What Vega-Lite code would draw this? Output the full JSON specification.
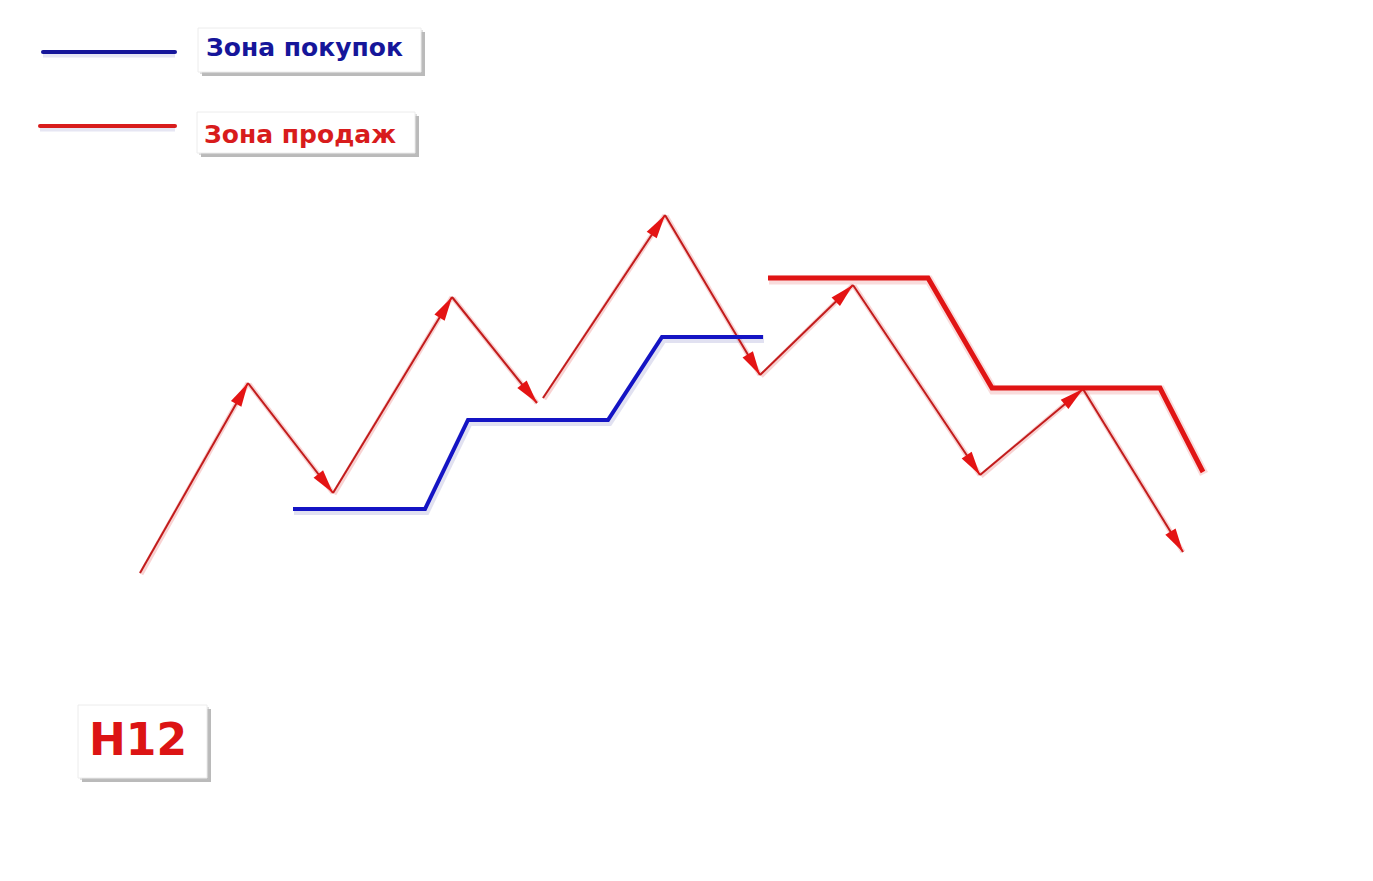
{
  "$schema": "https://vega.github.io/schema/vega-lite/v6.json",
  "width": 1373,
  "height": 881,
  "padding": 0,
  "autosize": {"type": "none"},
  "background": "white",
  "config": {"view": {"stroke": null}},
  "datasets": {
    "arrows": [
      {"id": 1, "x": 140, "y": 573, "x2": 248, "y2": 383},
      {"id": 2, "x": 248, "y": 383, "x2": 333, "y2": 493},
      {"id": 3, "x": 333, "y": 493, "x2": 452, "y2": 297},
      {"id": 4, "x": 452, "y": 297, "x2": 537, "y2": 403},
      {"id": 5, "x": 543, "y": 398, "x2": 665, "y2": 215},
      {"id": 6, "x": 665, "y": 215, "x2": 760, "y2": 375},
      {"id": 7, "x": 760, "y": 375, "x2": 853, "y2": 285},
      {"id": 8, "x": 853, "y": 285, "x2": 980, "y2": 475},
      {"id": 9, "x": 980, "y": 475, "x2": 1083, "y2": 389},
      {"id": 10, "x": 1083, "y": 389, "x2": 1183, "y2": 552}
    ],
    "buy": [
      {"o": 1, "x": 293, "y": 509},
      {"o": 2, "x": 425, "y": 509},
      {"o": 3, "x": 468, "y": 420},
      {"o": 4, "x": 608, "y": 420},
      {"o": 5, "x": 662, "y": 337},
      {"o": 6, "x": 763, "y": 337}
    ],
    "sell": [
      {"o": 1, "x": 768, "y": 278},
      {"o": 2, "x": 928, "y": 278},
      {"o": 3, "x": 992, "y": 388},
      {"o": 4, "x": 1160, "y": 388},
      {"o": 5, "x": 1203, "y": 472}
    ],
    "legendLines": [
      {"zone": "buy", "x": 43, "x2": 175, "y": 52},
      {"zone": "sell", "x": 40, "x2": 175, "y": 126}
    ],
    "boxes": [
      {"name": "buy", "x": 198, "x2": 421, "y": 28, "y2": 72},
      {"name": "sell", "x": 197, "x2": 415, "y": 112, "y2": 153},
      {"name": "tf", "x": 78, "x2": 207, "y": 705, "y2": 778}
    ],
    "labels": [
      {"name": "buy", "text": "Зона покупок", "x": 206, "y": 56, "size": 25},
      {"name": "sell", "text": "Зона продаж", "x": 204, "y": 143, "size": 25},
      {"name": "tf", "text": "H12", "x": 89, "y": 755, "size": 44}
    ]
  },
  "encoding": {},
  "layer": [
    {
      "data": {"name": "boxes"},
      "mark": {"type": "rect", "color": "#8c8c8c", "opacity": 0.6, "xOffset": 4, "x2Offset": 4, "yOffset": 4, "y2Offset": 4},
      "encoding": {
        "x": {"field": "x", "type": "quantitative", "scale": {"domain": [0, 1373], "nice": false, "zero": false}, "axis": null},
        "x2": {"field": "x2"},
        "y": {"field": "y", "type": "quantitative", "scale": {"domain": [0, 881], "nice": false, "zero": false, "reverse": true}, "axis": null},
        "y2": {"field": "y2"}
      }
    },
    {
      "data": {"name": "boxes"},
      "mark": {"type": "rect", "color": "#bdbdbd", "opacity": 0.5, "xOffset": 2, "x2Offset": 2, "yOffset": 2, "y2Offset": 2},
      "encoding": {
        "x": {"field": "x", "type": "quantitative", "scale": {"domain": [0, 1373], "nice": false, "zero": false}, "axis": null},
        "x2": {"field": "x2"},
        "y": {"field": "y", "type": "quantitative", "scale": {"domain": [0, 881], "nice": false, "zero": false, "reverse": true}, "axis": null},
        "y2": {"field": "y2"}
      }
    },
    {
      "data": {"name": "boxes"},
      "mark": {"type": "rect", "color": "white", "stroke": "#ececec", "strokeWidth": 1},
      "encoding": {
        "x": {"field": "x", "type": "quantitative", "scale": {"domain": [0, 1373], "nice": false, "zero": false}, "axis": null},
        "x2": {"field": "x2"},
        "y": {"field": "y", "type": "quantitative", "scale": {"domain": [0, 881], "nice": false, "zero": false, "reverse": true}, "axis": null},
        "y2": {"field": "y2"}
      }
    },
    {
      "data": {"name": "labels"},
      "mark": {"type": "text", "align": "left", "baseline": "alphabetic", "font": "DejaVu Sans", "fontWeight": "bold"},
      "encoding": {
        "x": {"field": "x", "type": "quantitative", "scale": {"domain": [0, 1373], "nice": false, "zero": false}, "axis": null},
        "y": {"field": "y", "type": "quantitative", "scale": {"domain": [0, 881], "nice": false, "zero": false, "reverse": true}, "axis": null},
        "text": {"field": "text"},
        "size": {"field": "size", "type": "quantitative", "scale": null},
        "color": {"field": "name", "type": "nominal", "scale": {"domain": ["buy", "sell", "tf"], "range": ["#16169a", "#d81c1c", "#dc1414"]}, "legend": null}
      }
    },
    {
      "data": {"name": "legendLines"},
      "mark": {"type": "rule", "strokeWidth": 7, "opacity": 0.25, "color": "#9a9ad0", "yOffset": 2},
      "encoding": {
        "x": {"field": "x", "type": "quantitative", "scale": {"domain": [0, 1373], "nice": false, "zero": false}, "axis": null},
        "x2": {"field": "x2"},
        "y": {"field": "y", "type": "quantitative", "scale": {"domain": [0, 881], "nice": false, "zero": false, "reverse": true}, "axis": null}
      }
    },
    {
      "data": {"name": "legendLines"},
      "mark": {"type": "rule", "strokeWidth": 4, "strokeCap": "round"},
      "encoding": {
        "x": {"field": "x", "type": "quantitative", "scale": {"domain": [0, 1373], "nice": false, "zero": false}, "axis": null},
        "x2": {"field": "x2"},
        "y": {"field": "y", "type": "quantitative", "scale": {"domain": [0, 881], "nice": false, "zero": false, "reverse": true}, "axis": null},
        "color": {"field": "zone", "type": "nominal", "scale": {"domain": ["buy", "sell"], "range": ["#1212b8", "#d81818"]}, "legend": null}
      }
    },
    {
      "data": {"name": "arrows"},
      "mark": {"type": "rule", "strokeWidth": 5, "color": "#f3b4b4", "opacity": 0.6, "xOffset": 1, "yOffset": 1},
      "encoding": {
        "x": {"field": "x", "type": "quantitative", "scale": {"domain": [0, 1373], "nice": false, "zero": false}, "axis": null},
        "x2": {"field": "x2"},
        "y": {"field": "y", "type": "quantitative", "scale": {"domain": [0, 881], "nice": false, "zero": false, "reverse": true}, "axis": null},
        "y2": {"field": "y2"}
      }
    },
    {
      "data": {"name": "buy"},
      "mark": {"type": "line", "strokeWidth": 8, "color": "#a8a8d8", "opacity": 0.35, "yOffset": 2, "xOffset": 1},
      "encoding": {
        "x": {"field": "x", "type": "quantitative", "scale": {"domain": [0, 1373], "nice": false, "zero": false}, "axis": null},
        "y": {"field": "y", "type": "quantitative", "scale": {"domain": [0, 881], "nice": false, "zero": false, "reverse": true}, "axis": null},
        "order": {"field": "o"}
      }
    },
    {
      "data": {"name": "sell"},
      "mark": {"type": "line", "strokeWidth": 9, "color": "#f0a8a8", "opacity": 0.4, "yOffset": 2, "xOffset": 1},
      "encoding": {
        "x": {"field": "x", "type": "quantitative", "scale": {"domain": [0, 1373], "nice": false, "zero": false}, "axis": null},
        "y": {"field": "y", "type": "quantitative", "scale": {"domain": [0, 881], "nice": false, "zero": false, "reverse": true}, "axis": null},
        "order": {"field": "o"}
      }
    },
    {
      "data": {"name": "arrows"},
      "mark": {"type": "rule", "strokeWidth": 2, "color": "#c21c1c"},
      "encoding": {
        "x": {"field": "x", "type": "quantitative", "scale": {"domain": [0, 1373], "nice": false, "zero": false}, "axis": null},
        "x2": {"field": "x2"},
        "y": {"field": "y", "type": "quantitative", "scale": {"domain": [0, 881], "nice": false, "zero": false, "reverse": true}, "axis": null},
        "y2": {"field": "y2"}
      }
    },
    {
      "data": {"name": "buy"},
      "mark": {"type": "line", "strokeWidth": 4, "color": "#1414c4", "strokeJoin": "miter"},
      "encoding": {
        "x": {"field": "x", "type": "quantitative", "scale": {"domain": [0, 1373], "nice": false, "zero": false}, "axis": null},
        "y": {"field": "y", "type": "quantitative", "scale": {"domain": [0, 881], "nice": false, "zero": false, "reverse": true}, "axis": null},
        "order": {"field": "o"}
      }
    },
    {
      "data": {"name": "sell"},
      "mark": {"type": "line", "strokeWidth": 5, "color": "#e01414", "strokeJoin": "miter"},
      "encoding": {
        "x": {"field": "x", "type": "quantitative", "scale": {"domain": [0, 1373], "nice": false, "zero": false}, "axis": null},
        "y": {"field": "y", "type": "quantitative", "scale": {"domain": [0, 881], "nice": false, "zero": false, "reverse": true}, "axis": null},
        "order": {"field": "o"}
      }
    },
    {
      "data": {"name": "arrows"},
      "transform": [
        {"calculate": "atan2(datum.x2 - datum.x, datum.y - datum.y2) * 180 / PI", "as": "angle"}
      ],
      "mark": {"type": "point", "filled": true, "opacity": 1, "color": "#e41414", "shape": "M0,0L-0.5,2L0.5,2Z", "size": 576},
      "encoding": {
        "x": {"field": "x2", "type": "quantitative", "scale": {"domain": [0, 1373], "nice": false, "zero": false}, "axis": null},
        "y": {"field": "y2", "type": "quantitative", "scale": {"domain": [0, 881], "nice": false, "zero": false, "reverse": true}, "axis": null},
        "angle": {"field": "angle", "type": "quantitative", "scale": null}
      }
    }
  ]
}
